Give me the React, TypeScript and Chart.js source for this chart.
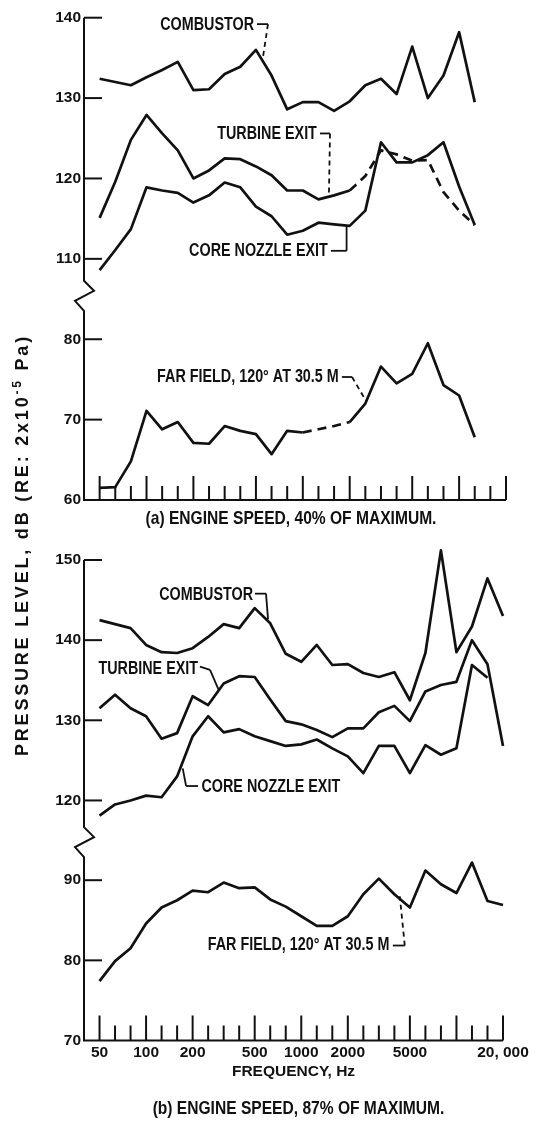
import React, { useEffect, useRef } from 'react';
import { Chart, registerables } from 'chart.js';

Chart.register(...registerables);

const INK = '#111111';
const FAMILY = "'Liberation Sans', Arial, sans-serif";
const NARROW = 0.82;

// One-third-octave band centre frequencies (Hz); a band is plotted at its index.
const bands = [50, 63, 80, 100, 125, 160, 200, 250, 315, 400, 500, 630, 800, 1000, 1250, 1600, 2000, 2500, 3150, 4000, 5000, 6300, 8000, 10000, 12500, 16000, 20000];
const labelledBands = [50, 100, 200, 500, 1000, 2000, 5000, 20000];
const labelledBandText = ['50', '100', '200', '500', '1000', '2000', '5000', '20, 000'];
const decadeBands = [50, 100, 200, 500, 1000, 2000, 5000, 10000, 20000];

// (a) engine speed 40 % of maximum, dB (bands 50 Hz .. 12 500 Hz)
const combustor40 = [132.4, 132.0, 131.6, 132.6, 133.5, 134.5, 131.0, 131.1, 133.0, 133.9, 136.0, 132.8, 128.6, 129.5, 129.5, 128.4, 129.6, 131.6, 132.4, 130.5, 136.4, 130.0, 132.8, 138.2, 129.5];
const turbineExit40 = [115.1, 119.6, 124.8, 127.9, 125.6, 123.5, 120.0, 121.0, 122.5, 122.4, 121.5, 120.4, 118.5, 118.5, 117.4, 117.9, 118.5, 120.3, 123.5, 123.0, 122.2, 122.3, 118.3, 116.0, 114.2];
const coreNozzleExit40 = [108.6, 111.1, 113.7, 118.9, 118.5, 118.2, 117.0, 117.9, 119.5, 118.9, 116.5, 115.3, 113.0, 113.5, 114.5, 114.3, 114.1, 116.0, 124.5, 122.0, 122.0, 122.9, 124.5, 119.0, 114.2];
const farField40 = [61.5, 61.6, 64.8, 71.1, 68.8, 69.7, 67.1, 67.0, 69.2, 68.6, 68.2, 65.7, 68.6, 68.4, 68.8, 69.2, 69.7, 72.0, 76.6, 74.5, 75.7, 79.5, 74.3, 73.0, 67.8];

// (b) engine speed 87 % of maximum, dB
const combustor87 = [142.5, 142.0, 141.5, 139.4, 138.5, 138.4, 139.0, 140.4, 142.0, 141.5, 144.0, 142.1, 138.3, 137.3, 139.4, 136.9, 137.0, 135.9, 135.4, 136.0, 132.5, 138.4, 151.2, 138.5, 141.7, 147.7, 143.0];
const turbineExit87 = [131.5, 133.2, 131.5, 130.5, 127.7, 128.4, 133.0, 131.9, 134.6, 135.5, 135.4, 132.6, 129.9, 129.5, 128.8, 127.9, 129.0, 129.0, 131.0, 131.8, 129.9, 133.6, 134.4, 134.8, 140.0, 137.0, 126.8];
const coreNozzleExit87 = [118.1, 119.5, 120.0, 120.6, 120.4, 123.0, 128.0, 130.5, 128.5, 128.9, 128.0, 127.4, 126.8, 127.0, 127.6, 126.5, 125.5, 123.4, 126.8, 126.8, 123.4, 126.9, 125.7, 126.5, 136.9, 135.3];
const farField87 = [77.4, 79.9, 81.5, 84.6, 86.6, 87.5, 88.7, 88.5, 89.7, 89.0, 89.1, 87.6, 86.7, 85.5, 84.3, 84.3, 85.5, 88.25, 90.2, 88.25, 86.6, 91.2, 89.5, 88.4, 92.2, 87.4, 86.9];

const yTicks40Upper = [110, 120, 130, 140];
const yTicks40Lower = [60, 70, 80];
const yTicks87Upper = [120, 130, 140, 150];
const yTicks87Lower = [70, 80, 90];

type Note = { text: string; axis: string; x: number; y: number; align: CanvasTextAlign };
type Leader = { axis: string; pts: number[][]; dash: boolean[] };

const tickFont = { family: FAMILY, size: 15.5, weight: 'bold' as const };

function lineDataset(values: number[], axis: string, dashed?: (i: number) => boolean) {
  const ds: any = {
    data: values.map((v, i) => ({ x: i, y: v })),
    xAxisID: 'x',
    yAxisID: axis,
    borderColor: INK,
    borderWidth: 2.7,
    pointRadius: 0,
    tension: 0,
    fill: false,
    clip: false,
    borderJoinStyle: 'round',
    borderCapStyle: 'butt',
  };
  if (dashed) {
    ds.segment = { borderDash: (c: any) => (dashed(c.p0DataIndex) ? [9, 6] : undefined) };
  }
  return ds;
}

function yScale(min: number, max: number, ticks: number[], weight: number) {
  return {
    type: 'linear',
    position: 'left',
    stack: 'v',
    stackWeight: max - min,
    weight,
    min,
    max,
    afterBuildTicks: (s: any) => {
      s.ticks = ticks.map((v) => ({ value: v }));
    },
    afterFit: (s: any) => {
      s.width = 84;
    },
    ticks: { color: INK, font: tickFont, padding: 3, callback: (v: any) => String(v) },
    grid: { display: false, drawTicks: false },
    border: { display: false },
  };
}

function drawNarrow(ctx: CanvasRenderingContext2D, text: string, x: number, y: number, align: CanvasTextAlign, size: number) {
  ctx.save();
  ctx.font = `bold ${size}px ${FAMILY}`;
  ctx.textAlign = align;
  ctx.textBaseline = 'middle';
  ctx.fillStyle = INK;
  ctx.scale(NARROW, 1);
  ctx.fillText(text, x / NARROW, y);
  ctx.restore();
}

function makeDecor(o: any) {
  return {
    id: 'decor',
    afterDraw(chart: any) {
      const { ctx, chartArea } = chart;
      const xs = chart.scales.x;
      const yU = chart.scales.yU;
      const yL = chart.scales.yL;
      const ax = chartArea.left;
      const base = chartArea.bottom;
      const brk = yU.bottom;
      ctx.save();
      ctx.strokeStyle = INK;
      ctx.fillStyle = INK;
      ctx.lineWidth = 2;
      ctx.setLineDash([]);
      ctx.beginPath();
      ctx.moveTo(ax, yU.top);
      ctx.lineTo(ax, brk - 15);
      ctx.lineTo(ax + 10, brk - 5);
      ctx.lineTo(ax - 9, brk + 5);
      ctx.lineTo(ax, brk + 15);
      ctx.lineTo(ax, base);
      ctx.lineTo(xs.right, base);
      ctx.stroke();
      bands.forEach((b, i) => {
        const px = xs.getPixelForValue(i);
        const len = decadeBands.includes(b) ? o.longTick : o.shortTick;
        ctx.beginPath();
        ctx.moveTo(px, base);
        ctx.lineTo(px, base - len);
        ctx.stroke();
      });
      const yt: any[] = [[yU, o.upperTicks], [yL, o.lowerTicks]];
      for (const [s, vals] of yt) {
        for (const v of vals) {
          if (v <= s.min) continue;
          const py = s.getPixelForValue(v);
          ctx.beginPath();
          ctx.moveTo(ax, py);
          ctx.lineTo(ax + 18, py);
          ctx.stroke();
        }
      }
      ctx.lineWidth = 1.8;
      for (const ld of o.leaders as Leader[]) {
        const s = chart.scales[ld.axis];
        for (let k = 0; k < ld.pts.length - 1; k++) {
          ctx.setLineDash(ld.dash[k] ? [5, 4] : []);
          ctx.beginPath();
          ctx.moveTo(xs.getPixelForValue(ld.pts[k][0]), s.getPixelForValue(ld.pts[k][1]));
          ctx.lineTo(xs.getPixelForValue(ld.pts[k + 1][0]), s.getPixelForValue(ld.pts[k + 1][1]));
          ctx.stroke();
        }
      }
      ctx.setLineDash([]);
      for (const n of o.notes as Note[]) {
        const s = chart.scales[n.axis];
        drawNarrow(ctx, n.text, xs.getPixelForValue(n.x), s.getPixelForValue(n.y), n.align, 17.5);
      }
      // panel caption
      drawNarrow(ctx, o.caption, (chartArea.left + chartArea.right) / 2 + o.capDx, base + o.capDy, 'center', 19);
      ctx.restore();
    },
  };
}

function makeConfig(p: any): any {
  return {
    type: 'line',
    data: { datasets: p.datasets },
    options: {
      animation: false,
      responsive: false,
      events: [],
      layout: { padding: { top: p.padTop, right: p.padRight, bottom: p.padBottom, left: 0 } },
      scales: {
        x: {
          type: 'linear',
          position: 'bottom',
          min: -1,
          max: 26,
          afterBuildTicks: (s: any) => {
            s.ticks = labelledBands.map((b) => ({ value: bands.indexOf(b) }));
          },
          afterFit: (s: any) => {
            s.height = p.xHeight;
          },
          ticks: {
            display: p.showX,
            autoSkip: false,
            maxRotation: 0,
            padding: 3,
            color: INK,
            font: tickFont,
            callback: (v: any) => labelledBandText[labelledBands.indexOf(bands[v])],
          },
          title: {
            display: p.showX,
            text: 'FREQUENCY, Hz',
            color: INK,
            font: tickFont,
            padding: { top: 0, bottom: 1.5 },
          },
          grid: { display: false, drawTicks: false },
          border: { display: false },
        },
        yL: yScale(p.lower[0], p.lower[1], p.lowerTicks, 0),
        yU: yScale(p.upper[0], p.upper[1], p.upperTicks, 1),
      },
      plugins: {
        legend: { display: false },
        tooltip: { enabled: false },
        title: { display: false },
      },
    },
    plugins: [makeDecor(p)],
  };
}

const panel40 = {
  datasets: [
    lineDataset(combustor40, 'yU'),
    lineDataset(turbineExit40, 'yU', (i) => i >= 16),
    lineDataset(coreNozzleExit40, 'yU'),
    lineDataset(farField40, 'yL', (i) => i >= 13 && i < 16),
  ],
  upper: [105.4, 140],
  lower: [60, 85.4],
  upperTicks: yTicks40Upper,
  lowerTicks: yTicks40Lower,
  padTop: 17.7,
  padRight: 31,
  padBottom: 40,
  xHeight: 0,
  showX: false,
  caption: '(a) ENGINE SPEED, 40% OF MAXIMUM.',
  capDx: -4,
  capDy: 19,
  longTick: 24,
  shortTick: 14,
  notes: [
    { text: 'COMBUSTOR', axis: 'yU', x: 9.88, y: 139.1, align: 'right' },
    { text: 'TURBINE EXIT', axis: 'yU', x: 13.9, y: 125.5, align: 'right' },
    { text: 'CORE NOZZLE EXIT', axis: 'yU', x: 14.6, y: 110.9, align: 'right' },
    { text: 'FAR FIELD, 120° AT 30.5 M', axis: 'yL', x: 15.3, y: 75.3, align: 'right' },
  ],
  leaders: [
    { axis: 'yU', pts: [[10.07, 139.2], [10.77, 139.2], [10.45, 135.1]], dash: [false, true] },
    { axis: 'yU', pts: [[14.1, 125.6], [14.74, 125.6], [14.67, 118.0]], dash: [false, true] },
    { axis: 'yU', pts: [[14.8, 111.0], [15.8, 111.0], [15.8, 114.1]], dash: [false, false] },
    { axis: 'yL', pts: [[15.5, 75.3], [16.15, 75.3], [17.05, 72.3]], dash: [false, true] },
  ],
};

const panel87 = {
  datasets: [
    lineDataset(combustor87, 'yU'),
    lineDataset(turbineExit87, 'yU'),
    lineDataset(coreNozzleExit87, 'yU'),
    lineDataset(farField87, 'yL'),
  ],
  upper: [114.8, 150],
  lower: [70, 94.75],
  upperTicks: yTicks87Upper,
  lowerTicks: yTicks87Lower,
  padTop: 20,
  padRight: 34,
  padBottom: 49.5,
  xHeight: 42,
  showX: true,
  caption: '(b) ENGINE SPEED, 87% OF MAXIMUM.',
  capDx: 5,
  capDy: 68,
  longTick: 25,
  shortTick: 15,
  notes: [
    { text: 'COMBUSTOR', axis: 'yU', x: 9.89, y: 145.6, align: 'right' },
    { text: 'TURBINE EXIT', axis: 'yU', x: 6.35, y: 136.4, align: 'right' },
    { text: 'CORE NOZZLE EXIT', axis: 'yU', x: 6.57, y: 121.7, align: 'left' },
    { text: 'FAR FIELD, 120° AT 30.5 M', axis: 'yL', x: 18.68, y: 81.9, align: 'right' },
  ],
  leaders: [
    { axis: 'yU', pts: [[10.02, 145.8], [10.73, 145.8], [10.86, 142.6]], dash: [false, false] },
    { axis: 'yU', pts: [[6.47, 136.7], [7.12, 136.3], [7.7, 133.7]], dash: [false, false] },
    { axis: 'yU', pts: [[5.36, 124.0], [5.58, 121.8], [6.35, 121.8]], dash: [false, false] },
    { axis: 'yL', pts: [[18.9, 81.85], [19.67, 81.85], [19.35, 88.0]], dash: [false, true] },
  ],
};

function Panel({ spec, top, height }: { spec: any; top: number; height: number }) {
  const ref = useRef<HTMLCanvasElement>(null);
  useEffect(() => {
    const chart = new Chart(ref.current as HTMLCanvasElement, makeConfig(spec));
    return () => chart.destroy();
  }, [spec]);
  return (
    <canvas
      ref={ref}
      width={537}
      height={height}
      style={{ position: 'absolute', left: 0, top, width: 537, height, display: 'block' }}
    />
  );
}

export default function App() {
  return (
    <div style={{ position: 'absolute', left: 0, top: 0, width: 537, height: 1132, background: '#ffffff', overflow: 'hidden' }}>
      <Panel spec={panel40} top={0} height={540} />
      <Panel spec={panel87} top={540} height={592} />
      <div
        style={{
          position: 'absolute',
          left: 22,
          top: 545,
          transform: 'translate(-50%, -50%) rotate(-90deg)',
          whiteSpace: 'nowrap',
          font: "bold 18px 'Liberation Sans', Arial, sans-serif",
          letterSpacing: '2.8px',
          color: INK,
          lineHeight: '20px',
        }}
      >
        PRESSURE LEVEL, dB (RE: 2x10<sup style={{ fontSize: '12px', lineHeight: 0 }}>-5</sup> Pa)
      </div>
    </div>
  );
}
